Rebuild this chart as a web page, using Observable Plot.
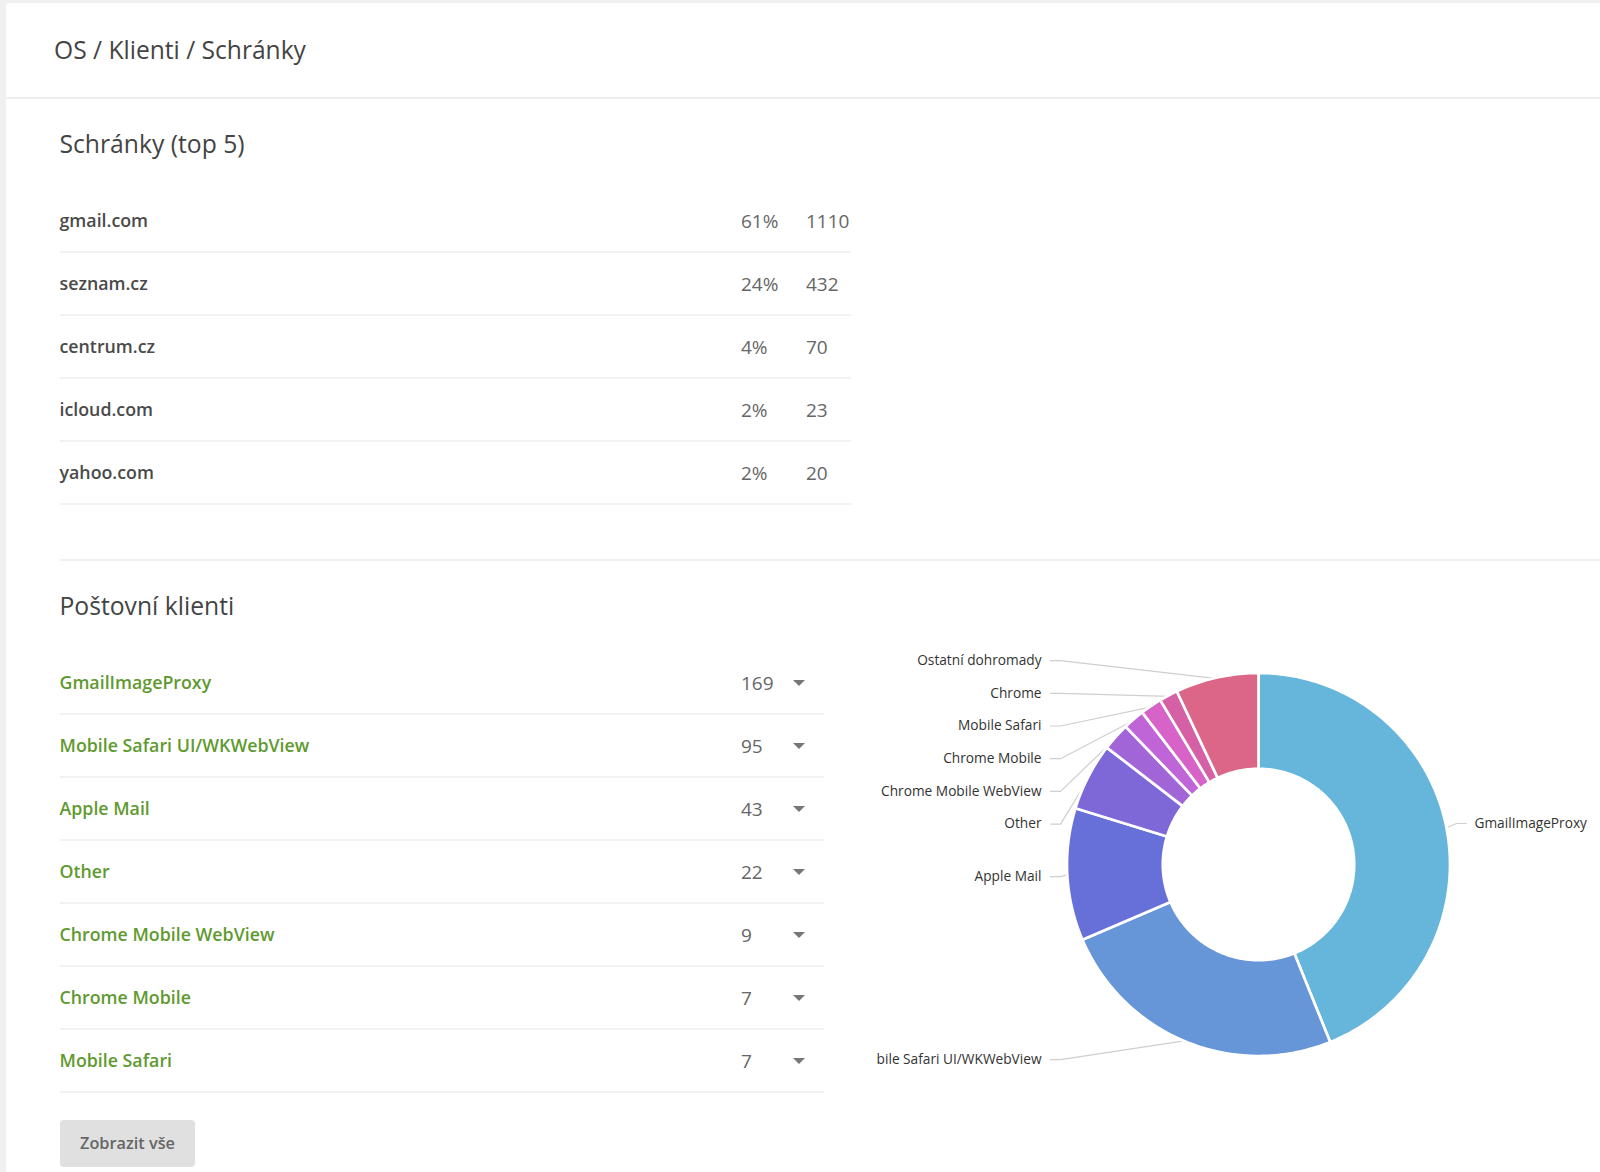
<!DOCTYPE html>
<html lang="cs">
<head>
<meta charset="utf-8">
<title>OS / Klienti / Schránky</title>
<script src="https://cdn.jsdelivr.net/npm/d3@7"></script>
<script src="https://cdn.jsdelivr.net/npm/@observablehq/plot@0.6"></script>
<style>
  html, body { margin: 0; padding: 0; background: #f0f0f0; }
  body { width: 1600px; height: 1172px; overflow: hidden; font-family: "Open Sans", sans-serif; color: #444; }
  #card { position: absolute; left: 6px; top: 3px; width: 1594px; height: 1169px; background: #fff; border-top-left-radius: 4px; }
  .abs { position: absolute; white-space: nowrap; }
  #title { left: 54px; top: 33px; font-size: 24.6px; line-height: 33px; }
  #page-rule { left: 6px; top: 97px; width: 1594px; height: 2px; background: #eee; }
  #section-rule { left: 60px; top: 559px; width: 1540px; height: 2px; background: #f0f0f0; }
  h2 { margin: 0; font-weight: 400; font-size: 24.7px; line-height: 34px; }
  .row { left: 60px; height: 61px; border-bottom: 2px solid #f2f2f2; }
  .row span { position: absolute; white-space: nowrap; }
  .name { left: -0.5px; top: 18px; font-size: 17.8px; line-height: 25px; font-weight: 600; color: #4a4a4a; }
  .num { top: 18px; font-size: 19px; line-height: 26px; color: #666; }
  .client .name { color: #5f9a30; }
  .caret { left: 733px; top: 28px; width: 0; height: 0; border-left: 6px solid transparent; border-right: 6px solid transparent; border-top: 6px solid #777; }
  #show-all { left: 60px; top: 1120px; width: 135px; height: 47px; background: #e0e0e0; border-radius: 4px; text-align: center; line-height: 46px; font-size: 16.3px; font-weight: 600; color: #666; }
  #chart { left: 877px; top: 620px; width: 723px; height: 552px; overflow: hidden; }
  #chart svg { display: block; background: transparent; }
</style>
</head>
<body>
<div id="card"></div>
<div class="abs" id="title">OS / Klienti / Schránky</div>
<div class="abs" id="page-rule"></div>
<h2 class="abs" style="left:59.5px;top:127px">Schránky (top 5)</h2>
<div id="mailboxes"></div>
<div class="abs" id="section-rule"></div>
<h2 class="abs" style="left:59.5px;top:589px">Poštovní klienti</h2>
<div id="clients"></div>
<div class="abs" id="show-all">Zobrazit vše</div>
<div class="abs" id="chart"></div>

<script>
// Schránky (top 5)
const mailboxNames = ["gmail.com", "seznam.cz", "centrum.cz", "icloud.com", "yahoo.com"];
const mailboxShares = ["61%", "24%", "4%", "2%", "2%"];
const mailboxCounts = [1110, 432, 70, 23, 20];

// Poštovní klienti: the list shows the first 7, the donut all of them
const clientNames = ["GmailImageProxy", "Mobile Safari UI/WKWebView", "Apple Mail", "Other", "Chrome Mobile WebView", "Chrome Mobile", "Mobile Safari", "Chrome", "Ostatní dohromady"];
const clientCounts = [169, 95, 43, 22, 9, 7, 7, 6, 27];
const sliceColors = ["#66b5da", "#6696d8", "#6670d8", "#7e68d8", "#a265d8", "#c065d8", "#d762c8", "#d660a5", "#dc6687"];
const listedClients = 7;

const outerRadius = 191.5;
const innerRadius = 95.7;
const labelRadius = 210;
const labelSpacing = 32.7;

// The two lists are plain HTML
const mailboxRows = mailboxNames.map((name, i) => `
  <div class="abs row" style="top:${190 + i * 63}px;width:791px">
    <span class="name">${name}</span>
    <span class="num" style="left:681px">${mailboxShares[i]}</span>
    <span class="num" style="left:746px">${mailboxCounts[i]}</span>
  </div>`);
document.getElementById("mailboxes").innerHTML = mailboxRows.join("");

const clientRows = clientNames.slice(0, listedClients).map((name, i) => `
  <div class="abs row client" style="top:${652 + i * 63}px;width:764px">
    <span class="name">${name}</span>
    <span class="num" style="left:681px">${clientCounts[i]}</span>
    <span class="caret"></span>
  </div>`);
document.getElementById("clients").innerHTML = clientRows.join("");

// Angle is measured clockwise from 12 o'clock, the origin is the donut centre
const polar = (angle, radius) => ({x: radius * Math.sin(angle), y: radius * Math.cos(angle)});

const arcs = d3.pie().sort(null)(clientCounts);

const slices = arcs.flatMap((arc, i) => {
  const steps = d3.range(0, 1.0001, 1 / Math.max(2, Math.ceil((arc.endAngle - arc.startAngle) * 60)));
  const angles = steps.map(t => arc.startAngle + t * (arc.endAngle - arc.startAngle));
  return [
    ...angles.map(a => polar(a, outerRadius)),
    ...angles.slice().reverse().map(a => polar(a, innerRadius))
  ].map(p => ({...p, name: clientNames[i]}));
});

// Labels sit beside their slice, pushed down from the top when they would collide
const labels = arcs.map((arc, i) => {
  const mid = (arc.startAngle + arc.endAngle) / 2;
  return {name: clientNames[i], mid, right: mid < Math.PI, y: polar(mid, labelRadius).y};
});
let lastY = Infinity;
for (const label of labels.filter(d => !d.right).reverse()) {
  label.y = Math.min(label.y, lastY - labelSpacing);
  lastY = label.y;
}
labels.forEach(d => { d.y += d.right ? 1 : -1; });

const connectors = labels.flatMap(d => {
  const side = d.right ? 1 : -1;
  return [
    {name: d.name, x: side * 208, y: d.y},
    {name: d.name, x: side * 198, y: d.y},
    {name: d.name, ...polar(d.mid, outerRadius - 1)}
  ];
});

const labelStyle = {x: d => d.right ? 216 : -217, y: "y", text: "name", fontSize: 13.7, fill: "#333"};

const donut = Plot.plot({
  width: 723,
  height: 552,
  margin: 0,
  x: {domain: [-381, 342], axis: null},
  y: {domain: [-308, 244], axis: null},
  color: {domain: clientNames, range: sliceColors},
  style: {fontFamily: "Open Sans, sans-serif", background: "transparent"},
  marks: [
    Plot.line(connectors, {x: "x", y: "y", z: "name", stroke: "#cfcfcf", strokeWidth: 1.2}),
    Plot.line(slices, {x: "x", y: "y", z: "name", fill: "name", stroke: "white", strokeWidth: 2.7, curve: "linear-closed"}),
    Plot.text(labels.filter(d => d.right), {...labelStyle, textAnchor: "start"}),
    Plot.text(labels.filter(d => !d.right), {...labelStyle, textAnchor: "end"})
  ]
});
document.getElementById("chart").append(donut);
</script>
</body>
</html>
